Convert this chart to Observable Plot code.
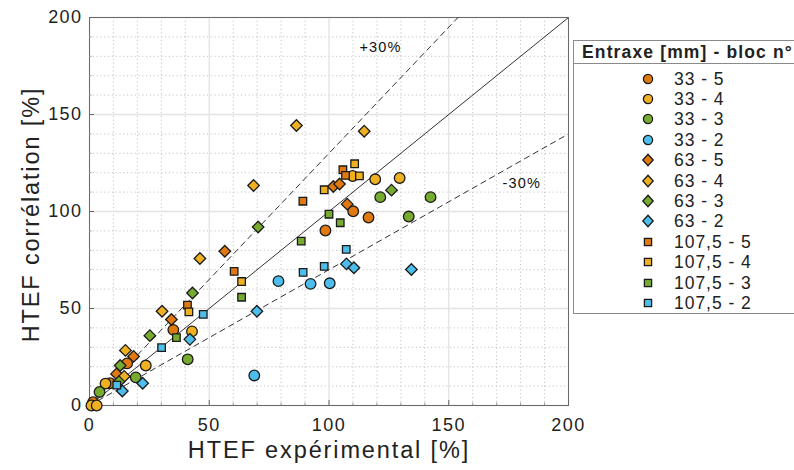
<!DOCTYPE html>
<html><head><meta charset="utf-8">
<script src="https://cdn.jsdelivr.net/npm/d3@7"></script>
<script src="https://cdn.jsdelivr.net/npm/@observablehq/plot@0.6"></script>
<style>
html,body{margin:0;padding:0;background:#fff;overflow:hidden;width:794px;height:470px}
#wrap{position:relative;width:794px;height:470px;font-family:"Liberation Sans",Arial,Helvetica,sans-serif;color:#222}
#wrap svg text{letter-spacing:0.08em}
#legend{position:absolute;left:573px;top:40px;width:240px;height:274px;border:1px solid #8a8a8a;background:#fff;box-sizing:border-box;letter-spacing:0.06em}
#legend .title{position:absolute;left:8px;top:0;height:22px;line-height:23px;font-weight:bold;font-size:17.5px;white-space:nowrap;letter-spacing:0.065em}
#legend .sep{position:absolute;left:0;right:0;top:22px;border-top:1px solid #8a8a8a}
#legend .row{position:absolute;left:0;height:20px;line-height:20px;font-size:17.5px;white-space:nowrap}
#legend .row svg{position:absolute;left:67px;top:3px}
#legend .row span{position:absolute;left:100px;top:0}
</style></head>
<body><div id="wrap"><div id="chart"></div><div id="legend"></div></div>
<script>
// ---- data ----
const seriesNames = ["33 - 5","33 - 4","33 - 3","33 - 2","63 - 5","63 - 4","63 - 3","63 - 2","107,5 - 5","107,5 - 4","107,5 - 3","107,5 - 2"];
const s33_5 = [[1.5,1.7],[8.5,11.5],[15.7,21.7],[35,39],[98.5,90.2],[110.1,100.1],[116.5,96.9]];
const s33_4 = [[0.8,0],[3,0],[6.7,11.3],[23.5,20.6],[42.8,38.2],[109.9,118.3],[119.3,116.6],[129.5,117.3]];
const s33_3 = [[4.2,7],[19.3,14.5],[41,23.8],[121.4,107.4],[133.3,97.4],[142.4,107.4]];
const s33_2 = [[68.8,15.5],[78.9,64.1],[92.3,62.7],[100.3,63]];
const s63_5 = [[11.3,16.3],[18.4,25.3],[34.2,44.3],[56.5,79.5],[101.8,112.9],[104.4,114.2],[107.6,103.8]];
const s63_4 = [[14.5,15],[15,28.4],[30.3,48.6],[46.1,75.8],[68.5,113.4],[86.4,144.3],[114.7,141.4]];
const s63_3 = [[12.3,12.3],[12.8,20.6],[25.2,36],[43,58],[70.4,92],[126.1,111]];
const s63_2 = [[13.7,7.5],[22.2,11.5],[41.9,34.1],[69.9,48.6],[107.3,73],[110.4,71],[134.4,70.1]];
const s107_5 = [[40.9,51.7],[60.4,69.1],[89.1,105.3],[105.8,121.5],[106.9,118.6]];
const s107_4 = [[41.5,48.3],[63.5,63.9],[98,111.2],[110.7,124.6],[112.7,118.4]];
const s107_3 = [[36.3,35],[63.5,55.8],[88.4,84.7],[100,98.6],[104.7,94.2]];
const s107_2 = [[11.4,10.5],[30.1,29.8],[47.5,47],[89.2,68.6],[98,71.7],[107.2,80.5]];
const seriesPoints = [s33_5,s33_4,s33_3,s33_2,s63_5,s63_4,s63_3,s63_2,s107_5,s107_4,s107_3,s107_2];
const blocs = ["5","4","3","2"];
const blocColors = ["#E07A10","#EFB122","#76AB2F","#4DBDEC"];
const entraxes = ["33","63","107,5"];
const entraxeSymbols = ["circle","diamond2","square2"];
const majorTicks = [0,50,100,150,200];
const minorTicks = [10,20,30,40,60,70,80,90,110,120,130,140,160,170,180,190];
const refSlopes = [1, 1.3, 0.7];
const refX = [0, 200];
const bandLabels = ["+30%","-30%"];
const bandLabelX = [121.5, 180.5];
const bandLabelY = [184.7, 114.4];
const xTitle = "HTEF expérimental [%]";
const yTitle = "HTEF corrélation [%]";
const legendTitle = "Entraxe [mm] - bloc n°";

// ---- build table ----
const rows = [];
seriesNames.forEach((name, i) => {
  const [entraxe, bloc] = name.split(" - ");
  seriesPoints[i].forEach(([x, y]) => rows.push({x, y, name, entraxe, bloc}));
});
const refLines = refSlopes.map(k => refX.map(x => ({x, y: x * k, k})));
const bandText = bandLabels.map((t, i) => ({t, x: bandLabelX[i], y: bandLabelY[i]}));
const symSize = {"circle": 5.3, "diamond2": 5.2, "square2": 4.8};

const dotMarks = entraxes.map((e, i) => Plot.dot(rows.filter(d => d.entraxe === e), {
  x: "x", y: "y", fill: "bloc", symbol: () => entraxeSymbols[i], r: symSize[entraxeSymbols[i]],
  stroke: "#1a1a1a", strokeWidth: 1.3
}));

const chart = Plot.plot({
  width: 794, height: 470,
  marginLeft: 89, marginRight: 226, marginTop: 17, marginBottom: 65,
  style: {fontFamily: "'Liberation Sans', Arial, Helvetica, sans-serif", color: "#222", background: "#fff"},
  x: {domain: [0, 200], label: null},
  y: {domain: [0, 200], label: null},
  color: {domain: blocs, range: blocColors},
  symbol: {type: "identity"},
  marks: [
    Plot.gridX(minorTicks, {stroke: "#c4c4c4", strokeOpacity: 1, strokeDasharray: "1.2,2.6"}),
    Plot.gridY(minorTicks, {stroke: "#c4c4c4", strokeOpacity: 1, strokeDasharray: "1.2,2.6"}),
    Plot.gridX(majorTicks, {stroke: "#e3e3e3", strokeOpacity: 1, strokeWidth: 1.3}),
    Plot.gridY(majorTicks, {stroke: "#e3e3e3", strokeOpacity: 1, strokeWidth: 1.3}),
    Plot.frame({stroke: "#6a6a6a"}),
    Plot.axisX(minorTicks, {tickSize: -2.5, tickFormat: () => "", stroke: "#999"}),
    Plot.axisY(minorTicks, {tickSize: -2.5, tickFormat: () => "", stroke: "#999"}),
    Plot.axisX(majorTicks, {tickSize: -5, tickFormat: () => "", stroke: "#666"}),
    Plot.axisY(majorTicks, {tickSize: -5, tickFormat: () => "", stroke: "#666"}),
    Plot.axisX(majorTicks, {tickSize: 0, tickPadding: 13, fontSize: 18, fill: "#222"}),
    Plot.axisY(majorTicks, {tickSize: 0, tickPadding: 7, fontSize: 18, fill: "#222"}),
    ...refLines.map(pts => Plot.line(pts, {
      x: "x", y: "y", clip: true, stroke: "#333", strokeWidth: 1,
      strokeDasharray: pts[0].k === 1 ? null : "5.5,4.5"
    })),
    Plot.text(bandText, {x: "x", y: "y", text: "t", fontSize: 14.5, fill: "#111"}),
    ...dotMarks,
    Plot.text([xTitle], {frameAnchor: "bottom", textAnchor: "middle", lineAnchor: "middle", dy: 45, fontSize: 23.5, fill: "#222"}),
    Plot.text([yTitle], {frameAnchor: "left", textAnchor: "middle", lineAnchor: "middle", dx: -58, dy: 3, rotate: -90, fontSize: 23.5, fill: "#222"})
  ]
});
document.getElementById("chart").appendChild(chart);

// ---- legend ----
function symbolSvg(sym, color) {
  let shape;
  if (sym === "circle") shape = `<circle cx="7" cy="7" r="4.6"/>`;
  else if (sym === "diamond2") shape = `<path d="M7,1.2L12.2,7L7,12.8L1.8,7Z"/>`;
  else shape = `<rect x="3.4" y="3.4" width="7.2" height="7.2"/>`;
  return `<svg width="14" height="14"><g fill="${color}" stroke="#1a1a1a" stroke-width="1.3">${shape}</g></svg>`;
}
const legend = document.getElementById("legend");
let html = `<div class="title">${legendTitle}</div><div class="sep"></div>`;
seriesNames.forEach((name, i) => {
  const [entraxe, bloc] = name.split(" - ");
  const sym = entraxeSymbols[entraxes.indexOf(entraxe)];
  const col = blocColors[blocs.indexOf(bloc)];
  const top = 27.5 + i * 20.4;
  html += `<div class="row" style="top:${top}px">${symbolSvg(sym, col)}<span>${name}</span></div>`;
});
legend.innerHTML = html;
</script>
</body></html>
